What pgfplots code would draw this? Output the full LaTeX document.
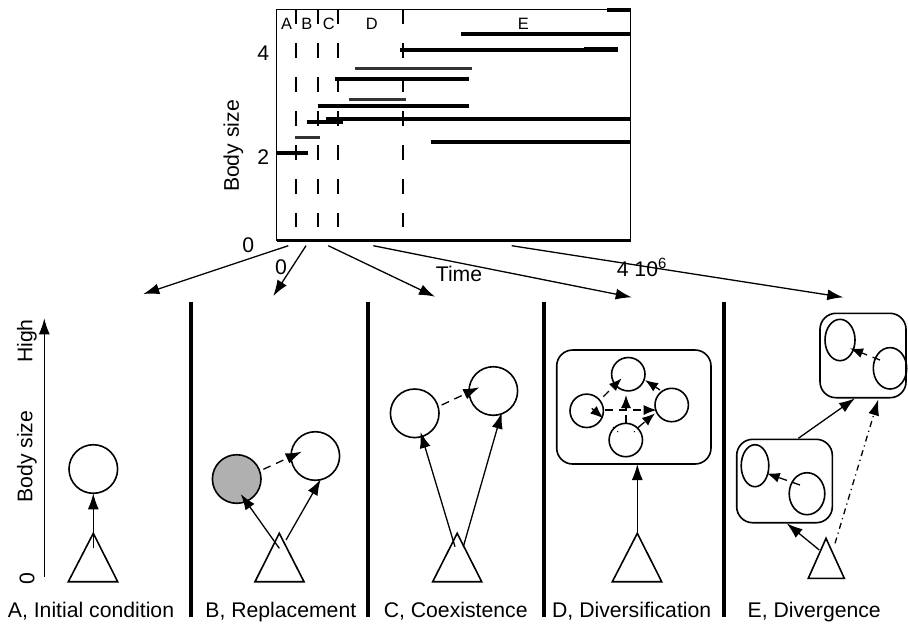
\documentclass[border=0pt]{standalone}
\usepackage{pgfplots}
\pgfplotsset{compat=1.18}
\usepackage{fontspec}
\setmainfont{Liberation Sans}
\usetikzlibrary{arrows.meta}
\tikzset{
  seg/.style={black, line width=1.9pt, no markers},
  segthin/.style={black!80, line width=1.5pt, no markers},
  phase/.style={black, line width=0.85pt, dash pattern=on 7.5pt off 9.5pt, no markers},
  arr/.style={line width=0.65pt,-{Latex[length=8pt,width=5.5pt]}},
  sarr/.style={line width=0.65pt,-{Latex[length=6.5pt,width=5pt]}},
  dsh/.style={dash pattern=on 4pt off 3pt},
}
\begin{document}
\begin{tikzpicture}
\fontsize{10.6}{12}\selectfont
\begin{scope}[x=0.5pt,y=-0.5pt]
\useasboundingbox (0,0) rectangle (908,629);
\end{scope}
\begin{axis}[
  at={(138.35pt,-120.35pt)}, anchor=south west,
  scale only axis, width=177pt, height=115.7pt,
  xmin=0, xmax=4.2, ymin=0.375, ymax=4.851,
  axis line style={line width=0.55pt},
  xtick=\empty, ytick={2,4},
  major tick length=0pt,
  tick label style={font=\fontsize{10.6}{12}\selectfont},
  /pgf/number format/assume math mode=true,
  clip=false,
]
% phase boundaries
\addplot[phase] coordinates {(0.229,4.851) (0.229,0.646)};
\addplot[phase] coordinates {(0.493,4.851) (0.493,0.646)};
\addplot[phase] coordinates {(0.724,4.851) (0.724,0.646)};
\addplot[phase] coordinates {(1.495,4.851) (1.495,0.646)};
% lineages
\addplot[seg] coordinates {(0,2.07) (0.375,2.07)};
\addplot[segthin] coordinates {(0.214,2.37) (0.514,2.37)};
\addplot[seg] coordinates {(0.356,2.665) (0.79,2.665)};
\addplot[seg] coordinates {(0.585,2.73) (4.2,2.73)};
\addplot[seg] coordinates {(1.834,2.28) (4.2,2.28)};
\addplot[seg] coordinates {(0.487,2.98) (2.278,2.98)};
\addplot[segthin] coordinates {(0.861,3.11) (1.534,3.11)};
\addplot[seg] coordinates {(0.695,3.50) (2.278,3.50)};
\addplot[segthin] coordinates {(0.929,3.71) (2.317,3.71)};
\addplot[seg] coordinates {(1.463,4.064) (4.045,4.064)};
\addplot[seg] coordinates {(3.649,4.09) (4.045,4.09)};
\addplot[seg] coordinates {(2.186,4.373) (4.2,4.373)};
\addplot[seg] coordinates {(3.915,4.835) (4.2,4.835)};
\draw[line width=1.6pt] (rel axis cs:0,0) -- (rel axis cs:1,0);
\end{axis}
\begin{scope}[x=0.5pt,y=-0.5pt, line width=0.8pt]
% labels of the top chart
\begin{scope}[font=\fontsize{8.2}{10}\selectfont]
\node at (286.5,24.2) {A};
\node at (306.8,24.2) {B};
\node at (328.8,24.2) {C};
\node at (371.7,24.2) {D};
\node at (523.3,24.2) {E};
\end{scope}
\node[rotate=90] at (233.3,146) {Body size};
\node at (248.3,245.3) {0};
\node[anchor=base] at (281,274.3) {0};
\node[anchor=base] at (459,281.7) {Time};
\node[anchor=base west,inner sep=0pt] at (616,276.7) {4 10\textsuperscript{6}};
% fan arrows
\draw[arr] (288.3,245.7) -- (143.3,294);
\draw[arr] (306,245.7) -- (273.3,296);
\draw[arr] (328.3,245.7) -- (435,296.7);
\draw[arr] (373.3,245.7) -- (631.7,297.3);
\draw[arr] (511.7,245.7) -- (843.3,297.3);
% separators
\foreach \xx in {191,367.7,543.7,724} \draw[line width=2pt] (\xx,301.7) -- (\xx,616.7);
% body size axis
\draw[arr] (44.3,576.7) -- (44.3,318.3);
\node[rotate=90] at (27,341) {High};
\node[rotate=90] at (27,456.7) {Body size};
\node[rotate=90] at (27,578.3) {0};
% panel A
\draw (93.3,469) circle[radius=24.3];
\draw (68.3,581.7) -- (93.3,533.3) -- (117.7,581.7) -- cycle;
\draw[arr] (93.3,548.3) -- (93.3,493.3);
% panel B
\draw[fill={rgb,255:red,176;green,176;blue,176}] (236.7,479) circle[radius=24.3];
\draw (315.3,456) circle[radius=24.3];
\draw (255,581.7) -- (279.3,533.3) -- (304,581.7) -- cycle;
\draw[arr] (279.3,548.3) -- (240.7,494);
\draw[arr] (286,540) -- (320.7,479.3);
\draw[arr,dsh] (263.3,469.3) -- (301.7,451.7);
% panel C
\draw (414.7,413.3) circle[radius=24.3];
\draw (493.3,391) circle[radius=24.3];
\draw (432.7,581.7) -- (457.2,533.3) -- (481.7,581.7) -- cycle;
\draw[arr] (455,546.7) -- (420.5,432);
\draw[arr] (463.3,546.7) -- (501.7,412.7);
\draw[arr,dsh] (441.7,405) -- (479.3,387.3);
% panel D
\draw[rounded corners=8pt] (556.7,350) rectangle (711,464);
\draw (628.3,374.2) circle[radius=16.7];
\draw (586.7,410.8) circle[radius=16.7];
\draw (671.7,405) circle[radius=16.7];
\draw (625.8,440) circle[radius=16.7];
\draw (612.3,581.7) -- (637.3,533.3) -- (661.7,581.7) -- cycle;
\draw[arr] (637.3,533.3) -- (637.3,464);
\draw[sarr,dsh] (605,410) -- (656.7,410);
\draw[sarr,dsh] (626,423.3) -- (626,395);
\draw[sarr,dsh] (603.3,396.7) -- (621.7,378.3);
\draw[sarr] (660,390) -- (645,380);
\draw[sarr] (591.7,408.3) -- (603.3,418.3);
\draw[sarr,dsh] (638.3,427.3) -- (655,413.3);
\draw[line width=0.4pt,dash pattern=on 1pt off 2pt] (613,427) -- (618,432);
\draw[line width=0.4pt,dash pattern=on 1pt off 2pt] (639,427) -- (634,432);
% panel E
\draw[rounded corners=8pt] (736.7,439.3) rectangle (832.3,522.7);
\draw (755,465.7) ellipse[x radius=13.8, y radius=21];
\draw (807,493.7) ellipse[x radius=17.8, y radius=21];
\draw[sarr,dsh] (800,485) -- (766.7,473.3);
\draw[rounded corners=8pt] (820,313.3) rectangle (906,397.7);
\draw (840,340) ellipse[x radius=15, y radius=20.7];
\draw (890,368.3) ellipse[x radius=16.7, y radius=20.7];
\draw[sarr,dsh] (880,360) -- (850,348.3);
\draw (808.3,578.3) -- (826,538.3) -- (844.3,578.3) -- cycle;
\draw[arr] (819.3,550) -- (786.7,523.3);
\draw[arr] (798.3,438.3) -- (855,398.3);
\draw[arr,dash pattern=on 3pt off 2pt on 0.6pt off 2pt] (835,543.3) -- (878.3,399.3);
% panel labels
\node[anchor=base] at (91,617.3) {A, Initial condition};
\node[anchor=base] at (280.8,617.3) {B, Replacement};
\node[anchor=base] at (455.7,617.3) {C, Coexistence};
\node[anchor=base] at (631.7,617.3) {D, Diversification};
\node[anchor=base] at (814.2,617.3) {E, Divergence};
\end{scope}
\end{tikzpicture}
\end{document}
